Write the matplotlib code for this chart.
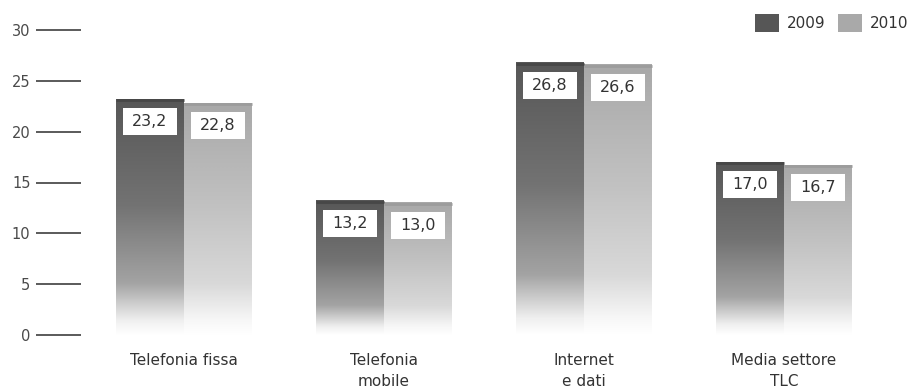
import numpy as np
import matplotlib
matplotlib.use("Agg")
import matplotlib.pyplot as plt
from matplotlib.patches import Rectangle

categories = ["Telefonia fissa", "Telefonia\nmobile", "Internet\ne dati", "Media settore\nTLC"]
series_names = ["2009", "2010"]
values_2009 = [23.2, 13.2, 26.8, 17.0]
values_2010 = [22.8, 13.0, 26.6, 16.7]
value_labels_2009 = ["23,2", "13,2", "26,8", "17,0"]
value_labels_2010 = ["22,8", "13,0", "26,6", "16,7"]
y_ticks = [0, 5, 10, 15, 20, 25, 30]

W, H = 913, 387
fig = plt.figure(figsize=(W / 100, H / 100), dpi=100)

# axes placed in pixel terms: y=0 at 335 px, y=30 at 30 px from top
ax_left, ax_right = 36, 900
ax_top, ax_bottom = 30, 335
ax = fig.add_axes([ax_left / W, (H - ax_bottom) / H,
                   (ax_right - ax_left) / W, (ax_bottom - ax_top) / H])
ax.set_xlim((ax_left - 184) / 200, (ax_right - 184) / 200)
ax.set_ylim(0, 30)
for s in ax.spines.values():
    s.set_visible(False)
ax.set_xticks([])
ax.set_yticks(y_ticks)
ax.set_yticklabels([str(t) for t in y_ticks])
ax.tick_params(axis="y", direction="in", length=32.5, width=1.4,
               color="#5a5a5a", labelcolor="#4a4a4a", labelsize=10.5, pad=4)
for lbl in ax.get_yticklabels():
    lbl.set_clip_on(False)
for t in ax.yaxis.get_major_ticks():
    t.tick1line.set_clip_on(False)

bar_w = 0.34

# gray level versus relative height (0 = bottom, 1 = top)
grad_t = [0.0, 0.06, 0.22, 0.55, 1.0]
grad_2009 = [1.0, 0.94, 0.64, 0.45, 0.34]
grad_2010 = [1.0, 0.97, 0.85, 0.76, 0.66]
top_edge = {"2009": "#474747", "2010": "#9c9c9c"}


def gradient_bar(x0, h, levels, edge):
    t = np.linspace(0, 1, 256)
    g = np.interp(t, grad_t, levels)
    col = np.stack([g, g, g], axis=-1)[::-1]
    img = np.repeat(col[:, None, :], 2, axis=1)
    ax.imshow(img, extent=[x0, x0 + bar_w, 0, h], aspect="auto",
              interpolation="bilinear", zorder=2)
    ax.plot([x0, x0 + bar_w], [h - 0.1, h - 0.1], color=edge,
            lw=2.0, solid_capstyle="butt", zorder=3)


def value_box(xc, h, text):
    bw, bh = 0.27, 2.65
    top = h - 0.9
    ax.add_patch(Rectangle((xc - bw / 2, top - bh), bw, bh,
                           facecolor="white", edgecolor="none", zorder=4))
    ax.text(xc, top - bh / 2, text, ha="center", va="center",
            fontsize=11.5, color="#333333", zorder=5)


for i in range(len(categories)):
    x09 = i - bar_w
    x10 = i
    gradient_bar(x09, values_2009[i], grad_2009, top_edge["2009"])
    gradient_bar(x10, values_2010[i], grad_2010, top_edge["2010"])
    value_box(x09 + bar_w / 2, values_2009[i], value_labels_2009[i])
    value_box(x10 + bar_w / 2, values_2010[i], value_labels_2010[i])
    ax.text(i, -1.75, categories[i], ha="center", va="top", fontsize=11,
            color="#333333", linespacing=1.5, clip_on=False)

ax.set_xlim((ax_left - 184) / 200, (ax_right - 184) / 200)
ax.set_ylim(0, 30)

# legend in figure pixels
legend_items = [(755, "#565656", series_names[0]), (838, "#a9a9a9", series_names[1])]
for x, c, name in legend_items:
    fig.patches.append(Rectangle((x / W, (H - 32) / H), 24 / W, 18 / H,
                                 transform=fig.transFigure, facecolor=c,
                                 edgecolor="none"))
    fig.text((x + 32) / W, (H - 23) / H, name, ha="left", va="center",
             fontsize=11, color="#333333")

fig.savefig("out.png", dpi=100, facecolor="white")
